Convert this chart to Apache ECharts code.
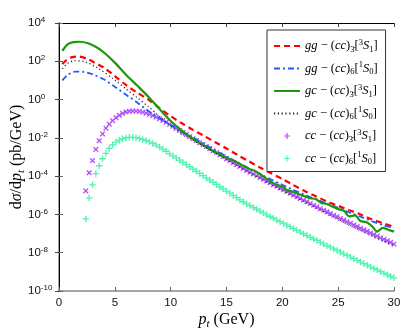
<!DOCTYPE html>
<html>
<head>
<meta charset="utf-8">
<script src="https://cdn.jsdelivr.net/npm/echarts@6/dist/echarts.min.js"></script>
<style>
  html, body { margin: 0; padding: 0; background: #fff; }
  #chart { width: 415px; height: 336px; }
</style>
</head>
<body>
<div id="chart"></div>
<script>
// 系列名称（图例顺序）
const seriesNames = ["gg3S1", "gg1S0", "gc3S1", "gc1S0", "cc3S1", "cc1S0"];

// gg - (cc)3[3S1]  红色虚线
const ggTripletPt = [0.3, 0.7, 1.2, 1.8, 2.5, 3.2, 4, 5, 6, 7, 8, 9, 10, 11, 12, 13, 14, 15, 16, 17, 18, 19, 20, 21, 22, 23, 24, 25, 26, 27, 28, 29, 30];
const ggTripletVal = [71, 120, 166, 174, 135, 85, 47, 17, 5.8, 2.3, 1.0, 0.36, 0.135, 0.058, 0.026, 0.0126, 5.9e-3, 2.8e-3, 1.26e-3, 6.0e-4, 2.8e-4, 1.4e-4, 7.1e-5, 3.4e-5, 1.66e-5, 8.9e-6, 4.8e-6, 2.8e-6, 1.66e-6, 1.0e-6, 5.6e-7, 3.5e-7, 2.2e-7];

// gg - (cc)6[1S0]  蓝色点划线
const ggSextetPt = [0.3, 0.8, 1.5, 2.2, 3, 4, 5, 6, 7, 8, 9, 10, 11, 12, 13, 14, 15, 16, 17, 18, 19, 20, 21, 22, 23, 24, 25, 26, 27, 28, 29, 30];
const ggSextetVal = [10, 20, 29, 28, 21, 11.5, 4.7, 1.78, 0.71, 0.25, 0.105, 0.047, 0.022, 0.0105, 4.8e-3, 2.2e-3, 1.07e-3, 5.2e-4, 2.6e-4, 1.32e-4, 6.6e-5, 3.5e-5, 1.9e-5, 1.05e-5, 6.3e-6, 3.7e-6, 2.2e-6, 1.26e-6, 7.6e-7, 4.5e-7, 2.8e-7, 2.0e-7];

// gc - (cc)3[3S1]  绿色实线
const gcTripletPt = [0.3, 0.8, 1.3, 1.8, 2.6, 3.4, 4.1, 5, 6, 7, 8, 9, 10, 11, 12, 13, 14, 15, 16, 16.5, 17, 17.5, 18, 18.5, 19, 19.5, 20, 20.5, 21, 21.5, 22, 22.5, 23, 23.5, 24, 24.5, 25, 25.5, 26, 26.5, 27, 27.5, 28, 28.5, 29, 29.5, 30];
const gcTripletVal = [355, 794, 1000, 1047, 871, 525, 263, 85, 20, 5.4, 1.41, 0.32, 0.076, 0.024, 8.9e-3, 3.8e-3, 1.78e-3, 9.3e-4, 5.0e-4, 3.5e-4, 2.4e-4, 1.9e-4, 1.26e-4, 7.9e-5, 5.0e-5, 3.5e-5, 2.8e-5, 1.78e-5, 1.5e-5, 1.12e-5, 8.9e-6, 7.1e-6, 6.3e-6, 4.0e-6, 3.5e-6, 2.5e-6, 1.9e-6, 1.58e-6, 7.9e-7, 8.9e-7, 4.5e-7, 4.0e-7, 2.5e-7, 1.26e-7, 2.0e-7, 1.58e-7, 1.26e-7];

// gc - (cc)6[1S0]  黑色点线
const gcSextetPt = [0.3, 0.8, 1.4, 2.3, 3.5, 5, 6, 7, 8, 9, 10, 11, 12, 13, 14, 15, 16, 17, 18, 19, 20, 21, 22, 23, 24, 25, 26, 27, 28, 29, 30];
const gcSextetVal = [40, 79, 107, 95, 43, 10.5, 3.6, 1.26, 0.43, 0.132, 0.042, 0.0166, 7.6e-3, 3.5e-3, 1.58e-3, 7.2e-4, 3.4e-4, 1.58e-4, 7.6e-5, 3.6e-5, 1.78e-5, 8.9e-6, 4.5e-6, 2.24e-6, 1.12e-6, 5.6e-7, 2.8e-7, 1.48e-7, 7.9e-8, 4.3e-8, 2.4e-8];

// cc 两个系列共用的 pt 点
const ccPt = [2.4, 2.7, 3.0, 3.3, 3.6, 3.9, 4.2, 4.5, 4.8, 5.1, 5.4, 5.7, 6.0, 6.3, 6.6, 6.9, 7.2, 7.5, 7.8, 8.1,
  8.4, 8.7, 9.0, 9.3, 9.6, 9.9, 10.2, 10.5, 10.8, 11.1, 11.4, 11.7, 12.0, 12.3, 12.6, 12.9, 13.2, 13.5, 13.8, 14.1,
  14.4, 14.7, 15.0, 15.3, 15.6, 15.9, 16.2, 16.5, 16.8, 17.1, 17.4, 17.7, 18.0, 18.3, 18.6, 18.9, 19.2, 19.5, 19.8, 20.1,
  20.4, 20.7, 21.0, 21.3, 21.6, 21.9, 22.2, 22.5, 22.8, 23.1, 23.4, 23.7, 24.0, 24.3, 24.6, 24.9, 25.2, 25.5, 25.8, 26.1,
  26.4, 26.7, 27.0, 27.3, 27.6, 27.9, 28.2, 28.5, 28.8, 29.1, 29.4, 29.7, 30.0];

// cc - (cc)3[3S1]  紫色 x
const ccTripletVal = [1.7e-5, 1.5e-4, 6.5e-4, 2.5e-3, 7.1e-3, 1.6e-2, 3.2e-2, 5.2e-2, 7.9e-2, 0.112,
  0.151, 0.19, 0.224, 0.245, 0.251, 0.251, 0.24, 0.219, 0.195, 0.17,
  0.145, 0.12, 0.1, 0.081, 0.066, 0.051, 0.040, 0.031, 0.024, 0.019,
  0.0148, 0.0117, 9.1e-3, 7.2e-3, 5.6e-3, 4.5e-3, 3.5e-3, 2.75e-3, 2.1e-3, 1.7e-3,
  1.3e-3, 1.05e-3, 8.1e-4, 6.5e-4, 5.0e-4, 4.0e-4, 3.2e-4, 2.5e-4, 2.0e-4, 1.6e-4,
  1.3e-4, 1.07e-4, 8.5e-5, 6.9e-5, 5.6e-5, 4.5e-5, 3.6e-5, 2.95e-5, 2.4e-5, 1.95e-5,
  1.58e-5, 1.29e-5, 1.05e-5, 8.5e-6, 6.9e-6, 5.6e-6, 4.6e-6, 3.7e-6, 3.0e-6, 2.5e-6,
  2.0e-6, 1.66e-6, 1.38e-6, 1.12e-6, 9.1e-7, 7.6e-7, 6.2e-7, 5.1e-7, 4.2e-7, 3.5e-7,
  2.8e-7, 2.35e-7, 1.9e-7, 1.58e-7, 1.32e-7, 1.07e-7, 8.9e-8, 7.4e-8, 6.0e-8, 5.0e-8,
  4.2e-8, 3.5e-8, 2.8e-8];

// cc - (cc)6[1S0]  青绿色 +
const ccSextetVal = [5.8e-7, 7.4e-6, 3.5e-5, 1.35e-4, 3.5e-4, 8.1e-4, 1.55e-3, 2.8e-3, 4.3e-3, 6.0e-3,
  7.6e-3, 9.1e-3, 1.0e-2, 1.07e-2, 1.07e-2, 1.02e-2, 9.3e-3, 8.3e-3, 7.2e-3, 6.2e-3,
  5.1e-3, 4.2e-3, 3.3e-3, 2.6e-3, 2.0e-3, 1.5e-3, 1.15e-3, 8.9e-4, 6.8e-4, 5.2e-4,
  4.0e-4, 3.1e-4, 2.3e-4, 1.8e-4, 1.38e-4, 1.07e-4, 8.1e-5, 6.3e-5, 4.8e-5, 3.7e-5,
  2.8e-5, 2.2e-5, 1.66e-5, 1.29e-5, 9.8e-6, 7.6e-6, 5.8e-6, 4.6e-6, 3.6e-6, 2.9e-6,
  2.3e-6, 1.86e-6, 1.48e-6, 1.2e-6, 9.5e-7, 7.8e-7, 6.3e-7, 5.1e-7, 4.2e-7, 3.4e-7,
  2.75e-7, 2.24e-7, 1.82e-7, 1.48e-7, 1.2e-7, 9.8e-8, 7.9e-8, 6.5e-8, 5.2e-8, 4.4e-8,
  3.5e-8, 2.9e-8, 2.3e-8, 1.95e-8, 1.58e-8, 1.32e-8, 1.07e-8, 8.7e-9, 7.2e-9, 5.9e-9,
  4.9e-9, 4.0e-9, 3.3e-9, 2.7e-9, 2.24e-9, 1.82e-9, 1.51e-9, 1.26e-9, 1.02e-9, 8.5e-10,
  7.1e-10, 5.9e-10, 4.9e-10];

// 坐标轴刻度
const xTicks = [0, 30, 5];
const yExpTicks = [-10, 4];

// 图例文字（富文本）
const legendLabels = {
  gg3S1: "{i|gg}{r| − (}{i|cc}{r|)}{sb|3̄}{r|[}{sp|3}{i|S}{sb|1}{r|]}",
  gg1S0: "{i|gg}{r| − (}{i|cc}{r|)}{sb|6}{r|[}{sp|1}{i|S}{sb|0}{r|]}",
  gc3S1: "{i|gc}{r| − (}{i|cc}{r|)}{sb|3̄}{r|[}{sp|3}{i|S}{sb|1}{r|]}",
  gc1S0: "{i|gc}{r| − (}{i|cc}{r|)}{sb|6}{r|[}{sp|1}{i|S}{sb|0}{r|]}",
  cc3S1: "{i|cc}{r| − (}{i|cc}{r|)}{sb|3̄}{r|[}{sp|3}{i|S}{sb|1}{r|]}",
  cc1S0: "{i|cc}{r| − (}{i|cc}{r|)}{sb|6}{r|[}{sp|1}{i|S}{sb|0}{r|]}"
};

const SERIF = "'Liberation Serif', 'DejaVu Serif', serif";
const SANS = "'Liberation Sans', Arial, sans-serif";
const PLUS = "path://M4,0H6V4H10V6H6V10H4V6H0V4H4Z";

function zip(xs, ys) {
  return xs.map((x, i) => [x, ys[i]]);
}

function lineSeries(name, xs, ys, color, width, dash) {
  return {
    name: name,
    type: "line",
    symbol: "none",
    smooth: 0.3,
    data: zip(xs, ys),
    lineStyle: { color: color, width: width, type: dash },
    itemStyle: { color: color }
  };
}

function markerSeries(name, xs, ys, color, rotate, size) {
  return {
    name: name,
    type: "scatter",
    symbol: PLUS,
    symbolSize: size,
    symbolRotate: rotate,
    data: zip(xs, ys),
    itemStyle: { color: color, opacity: 1 }
  };
}

// 线型系列的图例只画线，不画小圆点
const legendData = seriesNames.map((name, i) =>
  i < 4 ? { name: name, itemStyle: { opacity: 0 } } : { name: name }
);

const richLegend = {
  r: { fontFamily: SERIF, fontSize: 12.5, lineHeight: 16, color: "#000" },
  i: { fontFamily: SERIF, fontSize: 12.5, fontStyle: "italic", lineHeight: 16, color: "#000" },
  sb: { fontFamily: SERIF, fontSize: 8.5, lineHeight: 7, verticalAlign: "bottom", color: "#000" },
  sp: { fontFamily: SERIF, fontSize: 8.5, lineHeight: 7, verticalAlign: "top", color: "#000" }
};

const richName = {
  r: { fontFamily: SERIF, fontSize: 16, lineHeight: 20, color: "#000" },
  i: { fontFamily: SERIF, fontSize: 16, fontStyle: "italic", lineHeight: 20, color: "#000" },
  sb: { fontFamily: SERIF, fontSize: 11, fontStyle: "italic", lineHeight: 10, verticalAlign: "bottom", color: "#000" }
};

const myChart = echarts.init(document.getElementById("chart"), null, { renderer: "canvas" });

const option = {
  animation: false,
  backgroundColor: "#fff",
  grid: { left: 59, right: 21, top: 23, bottom: 45, outerBoundsMode: "none", containLabel: false },
  legend: {
    orient: "vertical",
    left: 267,
    top: 30,
    data: legendData,
    itemWidth: 26,
    itemHeight: 6,
    itemGap: 6.5,
    padding: [8, 8, 5, 6],
    borderColor: "#333",
    borderWidth: 1,
    backgroundColor: "#fff",
    formatter: name => legendLabels[name],
    textStyle: { rich: richLegend }
  },
  xAxis: [
    {
      type: "value",
      position: "bottom",
      min: xTicks[0],
      max: xTicks[1],
      interval: xTicks[2],
      name: "{i|p}{sb|t}{r| (GeV)}",
      nameLocation: "middle",
      nameGap: 19,
      nameMoveOverlap: false,
      nameTextStyle: { rich: richName },
      axisLine: { lineStyle: { color: "#888", width: 1.5 } },
      axisTick: { inside: true, length: 4, lineStyle: { color: "#666" } },
      axisLabel: { margin: 6, fontFamily: SANS, fontSize: 11.5, color: "#111" },
      splitLine: { show: false }
    },
    {
      type: "value",
      position: "top",
      min: xTicks[0],
      max: xTicks[1],
      interval: xTicks[2],
      axisLine: { lineStyle: { color: "#000", width: 1 } },
      axisTick: { inside: true, length: 4, lineStyle: { color: "#444" } },
      axisLabel: { show: false },
      splitLine: { show: false }
    }
  ],
  yAxis: [
    {
      type: "log",
      logBase: 100,
      position: "left",
      min: Math.pow(10, yExpTicks[0]),
      max: Math.pow(10, yExpTicks[1]),
      name: "{r|d}{i|σ}{r|/d}{i|p}{sb|t}{r| (pb/GeV)}",
      nameLocation: "middle",
      nameGap: 32,
      nameMoveOverlap: false,
      nameTextStyle: { rich: richName },
      axisLine: { lineStyle: { color: "#888", width: 1.5 } },
      axisTick: { inside: true, length: 4, lineStyle: { color: "#666" } },
      axisLabel: {
        margin: 31,
        align: "left",
        formatter: v => "{b|10}{s|" + Math.round(Math.log10(v)) + "}",
        rich: {
          b: { fontFamily: SANS, fontSize: 11.5, lineHeight: 14, color: "#111" },
          s: { fontFamily: SANS, fontSize: 8, lineHeight: 5, verticalAlign: "top", color: "#111" }
        }
      },
      splitLine: { show: false }
    },
    {
      type: "log",
      logBase: 100,
      position: "right",
      min: Math.pow(10, yExpTicks[0]),
      max: Math.pow(10, yExpTicks[1]),
      axisLine: { lineStyle: { color: "#000", width: 1 } },
      axisTick: { inside: true, length: 4, lineStyle: { color: "#444" } },
      axisLabel: { show: false },
      splitLine: { show: false }
    }
  ],
  series: [
    lineSeries("gg3S1", ggTripletPt, ggTripletVal, "#ff0000", 2.2, [6, 4]),
    lineSeries("gg1S0", ggSextetPt, ggSextetVal, "#2a55ff", 1.8, [6, 3, 2, 3]),
    lineSeries("gc3S1", gcTripletPt, gcTripletVal, "#1a9a0a", 2.2, "solid"),
    lineSeries("gc1S0", gcSextetPt, gcSextetVal, "#222222", 1.2, [1.2, 2.6]),
    markerSeries("cc3S1", ccPt, ccTripletVal, "#b24dff", 45, 6.5),
    markerSeries("cc1S0", ccPt, ccSextetVal, "#4df5b0", 0, 6.5)
  ]
};

myChart.setOption(option);
</script>
</body>
</html>
